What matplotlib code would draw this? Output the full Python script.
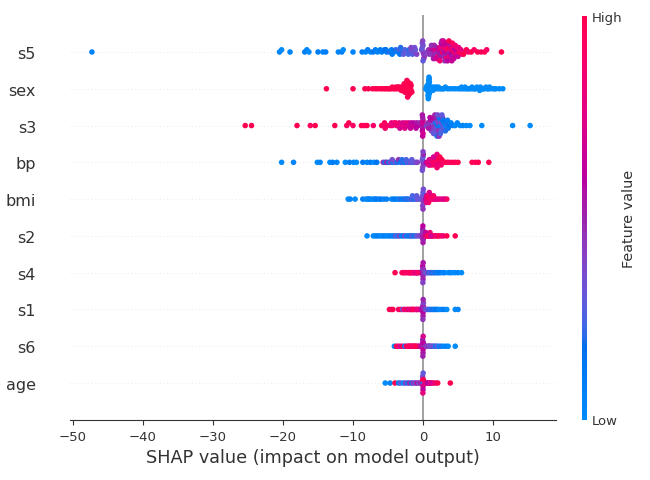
import numpy as np
import matplotlib
matplotlib.use("Agg")
import matplotlib.pyplot as plt
from matplotlib.colors import LinearSegmentedColormap
from matplotlib.cm import ScalarMappable

# rows from bottom to top
features = ["age", "s6", "s1", "s4", "s2", "bmi", "bp", "s3", "sex", "s5"]
xticks = [-50, -40, -30, -20, -10, 0, 10]

# SHAP values and (scaled 0..1) feature values
shap_s5 = [-47.3, -20.5, -20.2, -19.0, -16.9, -16.6, -16.3, -15.0, -14.3, -13.9, -12.1, -11.6, -11.4, -10.0,
           -8.7, -8.2, -7.9, -7.5, -7.1, -6.8, -6.5, -6.1, -5.9, -5.5, -5.2, -4.8, -4.5, -4.2, -3.9, -3.6,
           -3.4, -3.3, -3.2, -2.9, -2.6, -2.3, -2.0, -1.8, -1.6, -1.5, -1.3, -1.1, -0.9,
           0.0, -0.2, 0.1, -0.1, 0.2, 0.0, 0.1, -0.1, 0.0, -0.05,
           0.6, 0.8, 1.0, 1.1, 1.3, 1.4, 1.5, 1.7, 1.8, 1.9, 2.0, 2.1, 2.2, 2.3, 2.4, 2.5, 2.6, 2.7, 2.8, 2.9,
           3.0, 3.0, 3.1, 3.2, 3.3, 3.3, 3.4, 3.5, 3.6, 3.6, 3.7, 3.8, 3.9, 4.0, 4.0, 4.1, 4.2, 4.3, 4.4, 4.5,
           4.6, 4.7, 4.9, 5.0, 5.2, 5.4, 5.6, 5.9, 6.2, 6.5, 6.9, 7.3, 7.8, 8.3, 8.8, 9.1, 11.2,
           1.2, 1.6, 2.2, 2.6, 3.1, 3.4, 3.8, 4.2,
           0.9, 1.5, 1.9, 2.4, 2.7, 2.9, 3.5, 3.7, 4.1, 4.6, 5.1, 5.8,
           -2.8, -2.1, -1.7, -1.2, -4.4, -5.3]
val_s5 = [0.05, 0.05, 0.0, 0.05, 0.1, 0.05, 0.0, 0.1, 0.05, 0.1, 0.05, 0.1, 0.0, 0.05,
          0.1, 0.05, 0.1, 0.05, 0.15, 0.1, 0.05, 0.1, 0.1, 0.15, 0.1, 0.2, 0.1, 0.15, 0.2, 0.1,
          0.25, 0.15, 0.2, 0.2, 0.25, 0.3, 0.2, 0.35, 0.3, 0.25, 0.35, 0.3, 0.4,
          0.4, 0.35, 0.45, 0.3, 0.4, 0.35, 0.45, 0.35, 0.3, 0.4,
          0.4, 0.45, 0.4, 0.55, 0.45, 0.65, 0.5, 0.55, 0.75, 0.45, 0.6, 0.85, 0.5, 0.65, 0.55, 0.8, 0.5, 0.7, 1.0, 0.55,
          0.65, 0.85, 0.5, 0.7, 1.0, 0.6, 0.65, 0.85, 0.55, 0.95, 0.7, 0.75, 0.5, 0.9, 0.6, 0.75, 0.55, 0.85, 0.65, 1.0,
          0.6, 0.75, 0.85, 0.65, 1.0, 0.8, 0.9, 0.75, 1.0, 0.85, 1.0, 0.9, 1.0, 0.95, 1.0, 0.9, 1.0,
          0.45, 0.5, 0.55, 0.6, 0.45, 0.8, 0.55, 0.9,
          0.45, 0.55, 0.7, 0.85, 0.5, 0.7, 0.6, 1.0, 0.65, 0.85, 0.8, 1.0,
          0.3, 0.25, 0.4, 0.35, 0.1, 0.15]

# sex is binary: red (high) on the left, blue (low) on the right
shap_sex = [-13.8, -10.0, -8.3, -7.8, -7.2, -6.8, -6.5, -6.1, -5.8, -5.5, -5.3, -5.0, -4.8, -4.6, -4.4,
            -4.2, -4.0, -3.9, -3.7, -3.6, -3.4, -3.3, -3.2, -3.1, -3.0, -2.9, -2.8, -2.8, -2.7, -2.6,
            -2.6, -2.5, -2.5, -2.4, -2.4, -2.3, -2.3, -2.3, -2.2, -2.2, -2.2, -2.1, -2.1, -2.1, -2.0,
            -2.0, -2.0, -1.9, -1.9, -1.9, -1.8, -1.8, -1.7, -1.7, -1.6,
            -3.5, -3.0, -2.7, -2.5, -2.4, -2.3, -2.2, -1.9, -1.8,
            0.4, 0.5, 0.5, 0.6, 0.6, 0.7, 0.7, 0.7, 0.8, 0.8, 0.8, 0.9, 0.9, 1.0, 1.0, 1.1, 1.2, 1.3,
            1.4, 1.5, 1.6, 1.8, 1.9, 2.1, 2.2, 2.4, 2.6, 2.8, 3.0, 3.2, 3.5, 3.8, 4.2, 4.6, 5.0, 5.3,
            5.6, 5.9, 6.2, 6.4, 6.6, 6.9, 7.2, 7.5, 7.7, 8.0, 8.2, 8.5, 8.8, 9.0, 9.3, 9.6, 10.0, 10.4,
            10.9, 11.4,
            0.7, 0.8, 0.8, 0.9, 0.75, 0.85, 5.5, 6.0, 7.0, 7.4, 8.1, 8.6, 9.2, 9.5, 10.2]
val_sex = [1.0 if s < 0 else 0.0 for s in shap_sex]

shap_s3 = [-25.4, -24.5, -18.0, -16.1, -15.4, -12.6, -10.9, -10.6, -10.0, -8.8, -8.4, -8.0, -7.1, -5.9,
           -5.6, -5.5, -5.2, -4.7, -4.4, -4.1, -3.8, -3.6, -3.4, -3.1, -2.9, -2.7, -2.5, -2.3, -2.1,
           -1.9, -1.7, -1.5, -1.3, -1.1, -0.9, -0.7, -0.5,
           0.0, -0.1, -0.05, 0.0, -0.1, -0.05, 0.0, -0.1, -0.05,
           0.5, 0.7, 0.9, 1.0, 1.2, 1.3, 1.4, 1.5, 1.6, 1.7, 1.8, 1.9, 2.0, 2.1, 2.2, 2.3, 2.4, 2.5,
           2.6, 2.7, 2.8, 2.9, 3.0, 3.1, 3.3, 3.4, 3.6, 3.8, 4.0, 4.3, 4.6, 4.9, 5.3, 5.7, 6.2, 6.7,
           8.4, 12.8, 15.3,
           1.1, 1.4, 1.6, 1.8, 1.9, 2.0, 2.2, 2.3, 2.4, 2.6, 2.8,
           1.2, 1.5, 1.7, 2.0, 2.1, 2.3, 2.5, 2.7, 2.9, 3.2, 3.5, 0.8, 1.0,
           -4.5, -3.9, -3.3, -2.6, -1.8, -1.0, -5.4]
val_s3 = [1.0, 1.0, 1.0, 0.95, 1.0, 1.0, 0.95, 1.0, 0.9, 1.0, 0.95, 1.0, 0.9, 1.0,
          0.85, 0.95, 0.9, 0.9, 0.85, 0.9, 0.8, 0.85, 0.75, 0.9, 0.7, 0.8, 0.75, 0.65, 0.8,
          0.7, 0.6, 0.75, 0.6, 0.65, 0.55, 0.6, 0.5,
          0.6, 0.7, 0.55, 0.65, 0.6, 0.5, 0.7, 0.55, 0.65,
          0.4, 0.5, 0.3, 0.45, 0.35, 0.5, 0.3, 0.4, 0.25, 0.45, 0.2, 0.35, 0.3, 0.15, 0.4, 0.2, 0.3, 0.1,
          0.35, 0.2, 0.15, 0.3, 0.1, 0.25, 0.05, 0.2, 0.1, 0.15, 0.05, 0.1, 0.0, 0.05, 0.0, 0.05, 0.0, 0.0,
          0.0, 0.0, 0.0,
          0.55, 0.45, 0.6, 0.35, 0.5, 0.25, 0.45, 0.15, 0.5, 0.3, 0.4,
          0.4, 0.3, 0.5, 0.2, 0.35, 0.45, 0.25, 0.3, 0.15, 0.2, 0.1, 0.55, 0.6,
          0.8, 0.85, 0.7, 0.75, 0.65, 0.6, 0.9]

shap_bp = [-20.2, -18.5, -15.1, -14.7, -13.3, -12.9, -12.3, -11.1, -10.5, -9.9, -9.5, -8.6, -8.0, -7.5,
           -7.0, -6.6, -5.7, -5.4, -5.2, -4.9, -4.6, -4.3, -4.0, -3.7, -3.5, -3.2, -2.9, -2.6, -2.3,
           -2.0, -1.8, -1.5, -1.3, -1.0, -0.8,
           0.0, -0.1, 0.05, 0.0, -0.05, 0.05, -0.1, 0.0,
           0.5, 0.7, 0.9, 1.1, 1.2, 1.4, 1.5, 1.6, 1.8, 1.9, 2.0, 2.1, 2.2, 2.3, 2.5, 2.7, 2.9, 3.2,
           3.5, 3.8, 4.2, 4.6, 5.0, 7.0, 7.5, 7.9, 9.4,
           1.7, 1.9, 2.0, 2.2,
           1.0, 1.3, 1.7, 2.0, 2.4, 2.6, 1.5, 0.8,
           -4.4, -3.0, -1.6, -2.4]
val_bp = [0.0, 0.05, 0.0, 0.05, 0.0, 0.1, 0.05, 0.0, 0.1, 0.05, 0.0, 0.1, 0.05, 0.1,
          0.0, 0.15, 0.45, 0.1, 0.5, 0.2, 0.4, 0.1, 0.3, 0.2, 0.45, 0.15, 0.25, 0.1, 0.3,
          0.2, 0.35, 0.25, 0.3, 0.35, 0.4,
          0.4, 0.35, 0.45, 0.3, 0.4, 0.5, 0.35, 0.4,
          0.6, 0.8, 0.7, 0.9, 0.75, 1.0, 0.8, 0.9, 1.0, 0.85, 0.95, 0.8, 1.0, 0.9, 0.85, 1.0, 0.9, 0.95,
          1.0, 0.9, 1.0, 0.95, 1.0, 1.0, 0.95, 1.0, 1.0,
          0.85, 1.0, 0.9, 0.8,
          0.85, 0.9, 1.0, 0.8, 1.0, 0.9, 0.7, 0.75,
          0.35, 0.2, 0.3, 0.25]

shap_bmi = [-10.7, -10.4, -9.7, -8.6, -8.2, -7.9, -7.6, -7.3, -7.0, -6.6, -6.3, -6.0, -5.6, -5.2, -4.5,
            -4.2, -3.9, -3.6, -3.3, -3.0, -2.7, -2.3, -2.1, -1.8, -1.6, -1.4, -1.2, -1.0, -0.8, -0.6,
            -0.4,
            0.0, -0.05, 0.05, 0.0, -0.05, 0.05, 0.0,
            0.4, 0.5, 0.6, 0.7, 0.8, 0.9, 1.0, 1.1, 1.2, 1.4, 1.6, 1.8, 2.0, 2.3, 2.6, 2.9, 3.1, 3.4,
            0.6, 0.8, 1.0,
            0.5, 0.7, 0.9, 1.3, 1.5,
            -2.5, -1.5, -0.9, -7.8, -6.8]
val_bmi = [0.0, 0.05, 0.0, 0.1, 0.0, 0.05, 0.1, 0.0, 0.05, 0.1, 0.0, 0.15, 0.05, 0.1, 0.0,
           0.1, 0.15, 0.05, 0.2, 0.1, 0.15, 0.2, 0.1, 0.25, 0.2, 0.3, 0.15, 0.25, 0.3, 0.35,
           0.3,
           0.4, 0.35, 0.45, 0.3, 0.4, 0.35, 0.45,
           0.6, 0.7, 0.9, 0.8, 1.0, 0.7, 0.85, 0.9, 0.75, 1.0, 0.8, 0.9, 0.7, 0.85, 0.75, 0.8, 0.7, 0.9,
           0.65, 0.95, 0.6,
           0.8, 0.95, 0.75, 0.85, 0.9,
           0.2, 0.25, 0.3, 0.05, 0.1]

shap_s2 = [-8.0, -7.1, -6.8, -6.5, -6.2, -5.9, -5.6, -5.3, -5.0, -4.7, -4.4, -4.1, -3.9, -3.6, -3.4,
           -3.1, -2.8, -2.6, -2.3, -2.0, -1.8, -1.6, -1.4, -1.1, -0.9, -0.6, -0.4,
           0.0, -0.05, 0.05, 0.0, -0.05, 0.05, 0.0, 0.02, -0.02,
           0.3, 0.5, 0.6, 0.8, 0.9, 1.0, 1.2, 1.3, 1.5, 1.7, 1.9, 2.1, 2.3, 2.6, 2.9, 3.4, 4.6,
           0.4, 0.7, 1.1]
val_s2 = [0.0, 0.05, 0.0, 0.1, 0.05, 0.0, 0.1, 0.05, 0.0, 0.1, 0.05, 0.1, 0.3, 0.05, 0.4,
          0.1, 0.15, 0.35, 0.1, 0.2, 0.15, 0.3, 0.2, 0.2, 0.3, 0.35, 0.4,
          0.5, 0.45, 0.55, 0.6, 0.5, 0.45, 0.55, 0.5, 0.6,
          0.7, 0.8, 0.9, 0.75, 1.0, 0.85, 0.9, 0.8, 1.0, 0.85, 0.9, 0.8, 1.0, 0.9, 0.85, 1.0, 1.0,
          0.65, 0.95, 0.7]

shap_s4 = [-4.0, -3.0, -2.8, -2.6, -2.4, -2.2, -2.0, -1.8, -1.7, -1.5, -1.3, -1.1, -0.9, -0.7, -0.5,
           0.0, -0.05, 0.05, 0.0, -0.05, 0.05, 0.0, 0.02, -0.02,
           0.3, 0.5, 0.7, 0.9, 1.1, 1.3, 1.5, 1.7, 1.9, 2.1, 2.3, 2.6, 2.9, 3.1, 3.6, 3.9, 4.2, 4.6,
           5.0, 5.5,
           -1.9, -1.4, -1.0, -0.8]
val_s4 = [1.0, 0.9, 1.0, 0.85, 1.0, 0.9, 0.8, 1.0, 0.75, 0.9, 0.7, 0.8, 0.65, 0.75, 0.6,
          0.5, 0.45, 0.55, 0.5, 0.6, 0.45, 0.5, 0.55, 0.4,
          0.35, 0.3, 0.4, 0.2, 0.3, 0.15, 0.25, 0.1, 0.2, 0.05, 0.15, 0.1, 0.0, 0.05, 0.0, 0.05, 0.0, 0.0,
          0.05, 0.0,
          0.95, 0.85, 0.7, 0.9]

shap_s1 = [-4.8, -4.5, -4.3, -3.5, -3.2, -2.9, -2.7, -2.4, -2.2, -2.0, -1.8, -1.6, -1.4, -1.2, -1.0,
           -0.8, -0.6, -0.4,
           0.0, -0.05, 0.05, 0.0, -0.05, 0.05, 0.0, 0.02, -0.02,
           0.3, 0.5, 0.7, 0.9, 1.1, 1.3, 1.5, 1.7, 1.9, 2.1, 2.4, 2.7, 3.0, 3.4, 4.6, 5.0,
           -1.5, -0.9]
val_s1 = [1.0, 0.9, 1.0, 0.85, 1.0, 0.3, 0.9, 0.8, 1.0, 0.7, 0.9, 0.6, 0.8, 0.7, 0.9,
          0.65, 0.75, 0.6,
          0.5, 0.55, 0.45, 0.6, 0.5, 0.4, 0.55, 0.5, 0.45,
          0.4, 0.3, 0.35, 0.2, 0.25, 0.1, 0.2, 0.05, 0.15, 0.1, 0.0, 0.05, 0.1, 0.0, 0.0, 0.05,
          0.95, 0.8]

shap_s6 = [-4.1, -3.8, -3.5, -3.2, -2.9, -2.6, -2.4, -2.2, -2.0, -1.8, -1.6, -1.4, -1.2, -1.0, -0.8,
           -0.6, -0.4,
           0.0, -0.05, 0.05, 0.0, -0.05, 0.05, 0.0, 0.02, -0.02,
           0.4, 0.6, 0.8, 1.0, 1.2, 1.4, 1.6, 1.8, 2.0, 2.3, 2.6, 2.9, 3.3, 3.6, 4.6,
           -1.9, -1.5, -1.1, 0.9]
val_s6 = [0.0, 1.0, 0.9, 0.7, 1.0, 0.0, 0.8, 1.0, 0.9, 0.7, 1.0, 0.8, 0.9, 0.6, 0.75,
          0.6, 0.65,
          0.55, 0.6, 0.45, 0.65, 0.5, 0.6, 0.55, 0.7, 0.5,
          0.45, 0.4, 0.5, 0.3, 0.45, 0.2, 0.35, 0.1, 0.3, 0.05, 0.2, 0.0, 0.1, 0.0, 0.0,
          0.95, 0.85, 1.0, 0.35]

shap_age = [-5.4, -4.7, -4.0, -3.5, -3.2, -2.8, -2.5, -2.2, -1.9, -1.6, -1.4, -1.1, -0.9, -0.6, -0.4,
            0.0, -0.05, 0.05, 0.0, -0.05, 0.05, 0.0, 0.02, -0.02,
            0.3, 0.5, 0.7, 0.9, 1.1, 1.3, 1.5, 1.8, 2.1, 3.9,
            0.6, 1.0]
val_age = [0.0, 0.05, 1.0, 0.1, 0.3, 0.0, 0.4, 0.2, 0.5, 0.1, 0.45, 0.3, 0.55, 0.35, 0.5,
           0.5, 0.9, 0.2, 0.7, 0.4, 1.0, 0.6, 0.3, 0.8,
           0.8, 1.0, 0.85, 0.9, 1.0, 0.75, 0.95, 0.8, 1.0, 1.0,
           0.6, 0.7]

rows = {
    "age": (shap_age, val_age), "s6": (shap_s6, val_s6), "s1": (shap_s1, val_s1),
    "s4": (shap_s4, val_s4), "s2": (shap_s2, val_s2), "bmi": (shap_bmi, val_bmi),
    "bp": (shap_bp, val_bp), "s3": (shap_s3, val_s3), "sex": (shap_sex, val_sex),
    "s5": (shap_s5, val_s5),
}


def lch2rgb(l, c, h):
    # CIE LCh -> sRGB (D65), same route as the shap colormap
    a, b = c * np.cos(h), c * np.sin(h)
    fy = (l + 16) / 116
    fx, fz = fy + a / 500, fy - b / 200

    def finv(t):
        return t ** 3 if t > 6 / 29 else 3 * (6 / 29) ** 2 * (t - 4 / 29)

    xyz = np.array([0.95047 * finv(fx), finv(fy), 1.08883 * finv(fz)])
    m = np.array([[3.2404542, -1.5371385, -0.4985314],
                  [-0.9692660, 1.8760108, 0.0415560],
                  [0.0556434, -0.2040259, 1.0572252]])
    rgb = m @ xyz
    rgb = np.where(rgb > 0.0031308, 1.055 * np.abs(rgb) ** (1 / 2.4) - 0.055, 12.92 * rgb)
    return np.clip(rgb, 0, 1)


nsteps = 100
l_vals = list(np.linspace(54, 40, nsteps // 2)) + list(np.linspace(40, 54, nsteps // 2))
c_vals = np.linspace(70, 90, nsteps)
h_vals = np.linspace(4.6588, 0.35470565 + 2 * np.pi, nsteps)
red_blue = LinearSegmentedColormap.from_list(
    "red_blue", [lch2rgb(l, c, h) for l, c, h in zip(l_vals, c_vals, h_vals)])


def swarm(x, row_height=0.4, nbins=100):
    # vertical jitter like shap's beeswarm: stack points that share a bin
    x = np.asarray(x, float)
    quant = np.round(nbins * (x - x.min()) / (x.max() - x.min() + 1e-8))
    ys = np.zeros(len(x))
    layer, last = 0, -1
    for i in np.argsort(quant, kind="stable"):
        if quant[i] != last:
            layer = 0
        ys[i] = np.ceil(layer / 2) * ((layer % 2) * 2 - 1)
        layer += 1
        last = quant[i]
    return ys * 0.9 * (row_height / np.max(ys + 1))


axis_color = "#333333"
fig = plt.figure(figsize=(6.5, 4.81), dpi=100)
ax = fig.add_axes([70 / 650, 60.2 / 481, 485.6 / 650, 404.6 / 481])

ax.axvline(0, color="#999999", lw=1.3, zorder=-1)
for pos, name in enumerate(features):
    ax.axhline(pos, color="#cccccc", lw=0.43, dashes=(1, 5), zorder=-1)
    sv, fv = rows[name]
    ax.scatter(sv, pos + swarm(sv), c=fv, cmap=red_blue, vmin=0, vmax=1,
               s=16, linewidths=0, zorder=3)

ax.set_xlim(-50.43, 18.94)
ax.set_ylim(-1, len(features))
ax.set_yticks(range(len(features)))
ax.set_yticklabels(features, fontsize=11.5)
ax.set_xticks(xticks)
ax.tick_params("x", labelsize=9.5, color=axis_color, labelcolor=axis_color, width=0.8)
ax.tick_params("y", length=0, pad=24.5, labelcolor=axis_color)
for side in ["left", "right", "top"]:
    ax.spines[side].set_visible(False)
ax.spines["bottom"].set_color(axis_color)
ax.set_xlabel("SHAP value (impact on model output)", fontsize=12.7, color=axis_color)

cax = fig.add_axes([582 / 650, 60.5 / 481, 5 / 650, 403.5 / 481])
sm = ScalarMappable(cmap=red_blue)
sm.set_array([0, 1])
cb = fig.colorbar(sm, cax=cax, ticks=[0, 1])
cb.set_ticklabels(["Low", "High"])
cb.set_label("Feature value", size=10.4, labelpad=0, color=axis_color)
cb.ax.tick_params(labelsize=9.5, length=0, labelcolor=axis_color)
cb.outline.set_visible(False)

fig.savefig("out.png", dpi=100)
